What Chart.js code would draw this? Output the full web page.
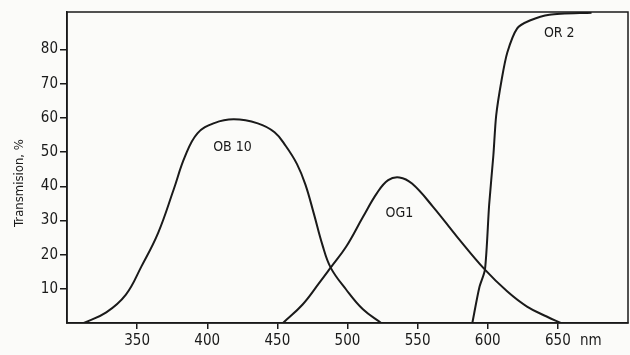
<!DOCTYPE html>
<html>
<head>
<meta charset="utf-8">
<script src="https://cdn.jsdelivr.net/npm/chart.js@4"></script>
<style>
  html, body { margin: 0; padding: 0; background: #fbfbf9; }
  #wrap { width: 630px; height: 355px; }
</style>
</head>
<body>
<div id="wrap"><canvas id="myChart" width="630" height="355"></canvas></div>
<script>
// transmission curves (nm, %)
const ob10Nm = [312, 328, 342, 353, 365, 376, 384, 393, 405, 419, 436, 448, 456, 464, 470, 476, 482, 488, 499, 511, 524];
const ob10T  = [0, 3.1, 8.3, 16.5, 26.4, 39, 48.6, 55.5, 58.5, 59.6, 58.4, 55.8, 51.8, 46.5, 40.5, 32, 23, 16.2, 9.8, 4, 0];

const og1Nm = [454, 468, 480, 488, 499, 511, 521, 529, 537, 546, 561, 578, 598, 614, 628, 642, 652];
const og1T  = [0, 5.4, 11.8, 16.2, 22.3, 31, 38, 41.8, 42.6, 40.8, 34, 25.3, 15.6, 9.2, 4.8, 1.9, 0];

const or2Nm = [589, 594, 598, 601, 604, 606, 610, 614, 621, 630, 644, 674];
const or2T  = [0, 10.4, 15.6, 34.6, 49, 60.7, 71.4, 79.2, 86.2, 88.5, 90.2, 90.8];

const xTicks = [350, 400, 450, 500, 550, 600, 650];
const yTicks = [10, 20, 30, 40, 50, 60, 70, 80];

const curveNames = ['OB 10', 'OG1', 'OR 2'];
const nameAt = [[418, 51.5], [537, 32.2], [651, 84.7]];

const ink = '#1a1a1a';
const fontFam = '"DejaVu Sans Condensed", "DejaVu Sans", sans-serif';

function pts(xs, ys) {
    return xs.map((x, i) => ({ x: x, y: ys[i] }));
}

function curve(label, xs, ys, tension) {
    return {
        label: label,
        data: pts(xs, ys),
        borderColor: ink,
        borderWidth: 2,
        pointRadius: 0,
        fill: false,
        tension: tension
    };
}

const extras = {
    id: 'extras',
    afterDraw(chart) {
        const c = chart.ctx;
        const a = chart.chartArea;
        const sx = chart.scales.x;
        const sy = chart.scales.y;
        c.save();
        // frame
        c.strokeStyle = ink;
        c.lineWidth = 1.5;
        c.strokeRect(a.left, a.top, a.right - a.left, a.bottom - a.top);

        c.fillStyle = ink;
        c.font = '14px ' + fontFam;
        c.textAlign = 'center';
        c.textBaseline = 'middle';
        curveNames.forEach((n, i) => {
            c.fillText(n, sx.getPixelForValue(nameAt[i][0]), sy.getPixelForValue(nameAt[i][1]));
        });

        // unit after last tick
        c.font = '15px ' + fontFam;
        c.textAlign = 'left';
        c.fillText('nm', sx.getPixelForValue(650) + 22, 341);

        // y title
        c.font = '13px ' + fontFam;
        c.translate(20, 183);
        c.rotate(-Math.PI / 2);
        c.textAlign = 'center';
        c.fillText('Transmision, %', 0, 0);
        c.restore();
    }
};

const ctx = document.getElementById('myChart').getContext('2d');
const myChart = new Chart(ctx, {
    type: 'line',
    data: {
        datasets: [
            curve(curveNames[0], ob10Nm, ob10T, 0.4),
            curve(curveNames[1], og1Nm, og1T, 0.4),
            curve(curveNames[2], or2Nm, or2T, 0.25)
        ]
    },
    options: {
        responsive: false,
        animation: false,
        layout: { padding: { left: 0, right: 2, top: 12, bottom: 0 } },
        plugins: {
            legend: { display: false },
            tooltip: { enabled: false }
        },
        scales: {
            x: {
                type: 'linear',
                min: 300,
                max: 700,
                afterBuildTicks: (s) => { s.ticks = xTicks.map(v => ({ value: v })); },
                afterFit: (s) => { s.height = 32; },
                grid: { drawOnChartArea: false, drawTicks: true, tickLength: 6, color: ink, lineWidth: 1.5 },
                border: { display: true, color: ink, width: 1.5 },
                ticks: { color: ink, padding: 3, maxRotation: 0, font: { family: fontFam, size: 15 } }
            },
            y: {
                min: 0,
                max: 91,
                afterBuildTicks: (s) => { s.ticks = yTicks.map(v => ({ value: v })); },
                afterFit: (s) => { s.width = 67; },
                grid: { drawOnChartArea: false, drawTicks: true, tickLength: 7, color: ink, lineWidth: 1.5 },
                border: { display: true, color: ink, width: 1.5 },
                ticks: { color: ink, padding: 2, font: { family: fontFam, size: 15 } }
            }
        }
    },
    plugins: [extras]
});
</script>
</body>
</html>
